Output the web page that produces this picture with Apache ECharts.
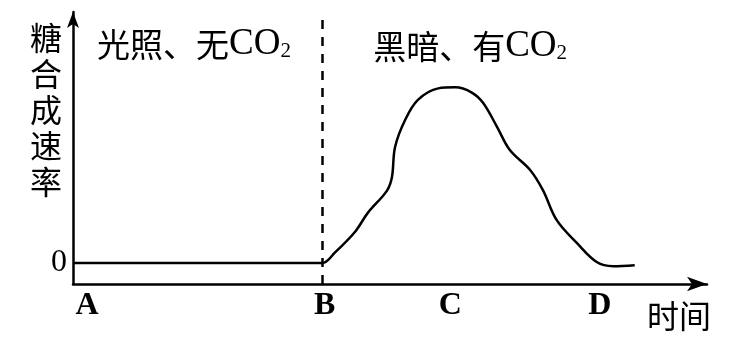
<!DOCTYPE html>
<html>
<head>
<meta charset="utf-8">
<script src="https://cdn.jsdelivr.net/npm/echarts@6/dist/echarts.min.js"></script>
<style>
    html, body { margin: 0; padding: 0; background: #fff; }
    #chart { width: 734px; height: 354px; }
</style>
</head>
<body>
<div id="chart"></div>
<script>
    // 时间（任意单位）与糖合成速率
    var timeX = [0, 39.3, 41.3, 44.5, 46.5, 49.5, 50.3, 50.8, 52.4, 54.4, 57.6, 60.3, 62.9, 64.7, 66.9, 68.9, 72.1, 74.1, 76.3, 79.5, 82.6, 85.2, 88.6];
    var rateY = [0, 0, 1.0, 3.0, 4.8, 6.9, 8.2, 11.1, 13.7, 15.6, 16.7, 16.8, 16.3, 15.3, 13.0, 10.8, 8.9, 7.0, 4.1, 1.9, 0.1, -0.3, -0.2];
    var pointNames = ['A', 'B', 'C', 'D'];
    var pointTimes = [2.2, 39.7, 59.5, 83.1];
    var lightEnd = 39.3;   // B：光照 -> 黑暗
    var zeroTick = [0];

    var cjk = 'Noto Sans CJK SC';
    var serif = 'Liberation Serif';

    var lineData = timeX.map(function (t, i) { return [t, rateY[i]]; });

    var richCO2 = {
        a: { fontFamily: cjk, fontSize: 33, color: '#000' },
        b: { fontFamily: serif, fontSize: 37, color: '#000' },
        s: { fontFamily: serif, fontSize: 21, color: '#000', padding: [14, 0, 0, 0] }
    };

    var chart = echarts.init(document.getElementById('chart'));
    chart.setOption({
        animation: false,
        title: {
            text: '糖\n合\n成\n速\n率',
            left: 30,
            top: 20,
            padding: 0,
            textStyle: { fontFamily: cjk, fontSize: 32, lineHeight: 36, fontWeight: 'normal', color: '#000' }
        },
        grid: { left: 73, right: 27, top: 12, bottom: 70 },
        xAxis: {
            type: 'value',
            min: 0,
            max: 100,
            name: '时间',
            nameLocation: 'end',
            nameGap: -60,
            nameTextStyle: { fontFamily: cjk, fontSize: 32, color: '#000', verticalAlign: 'top', padding: [16, 0, 0, 0] },
            axisLine: { onZero: false, lineStyle: { color: '#000', width: 2.5 }, symbol: ['none', 'arrow'], symbolSize: [11, 20] },
            axisTick: { show: false },
            splitLine: { show: false },
            axisLabel: {
                customValues: pointTimes,
                margin: 6,
                fontFamily: serif,
                fontSize: 32,
                fontWeight: 'bold',
                color: '#000',
                formatter: function (v) {
                    var i = pointTimes.indexOf(v);
                    return i >= 0 ? pointNames[i] : '';
                }
            }
        },
        yAxis: {
            type: 'value',
            min: -2,
            max: 24,
            axisLine: { onZero: false, lineStyle: { color: '#000', width: 2.5 }, symbol: ['none', 'arrow'], symbolSize: [9, 16] },
            axisTick: { show: false },
            splitLine: { show: false },
            axisLabel: {
                customValues: zeroTick,
                margin: 6,
                fontFamily: serif,
                fontSize: 32,
                color: '#000'
            }
        },
        series: [
            {
                type: 'line',
                data: lineData,
                smooth: 0.35,
                showSymbol: false,
                lineStyle: { color: '#000', width: 2.5 },
                markLine: {
                    silent: true,
                    symbol: 'none',
                    label: { show: false },
                    lineStyle: { color: '#000', width: 2.5, type: [9, 8] },
                    data: [{ xAxis: lightEnd }]
                },
                markArea: {
                    silent: true,
                    itemStyle: { color: 'rgba(0,0,0,0)' },
                    data: [
                        [
                            {
                                xAxis: 0,
                                label: { show: true, position: 'insideTopLeft', offset: [19, 9], formatter: '{a|光照、无}{b|CO}{s|2}', rich: richCO2 }
                            },
                            { xAxis: lightEnd }
                        ],
                        [
                            {
                                xAxis: lightEnd,
                                label: { show: true, position: 'insideTopLeft', offset: [46, 11], formatter: '{a|黑暗、有}{b|CO}{s|2}', rich: richCO2 }
                            },
                            { xAxis: 100 }
                        ]
                    ]
                }
            }
        ]
    });
</script>
</body>
</html>
